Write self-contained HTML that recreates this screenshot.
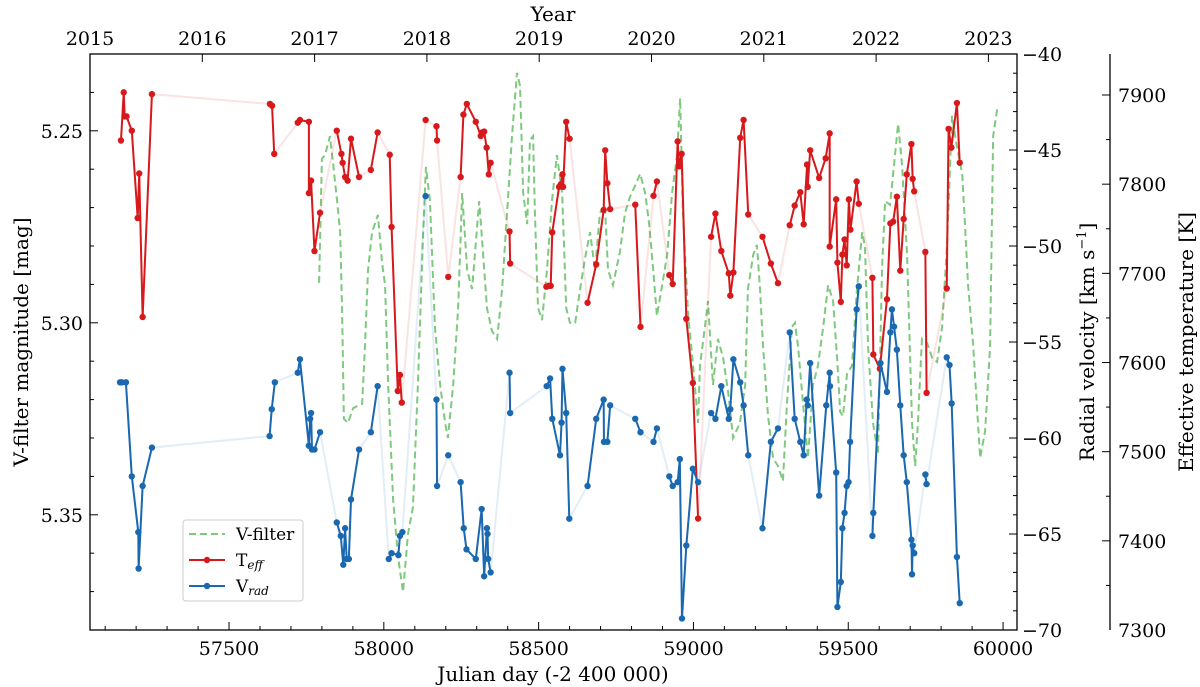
<!DOCTYPE html>
<html><head><meta charset="utf-8">
<style>
html,body{margin:0;padding:0;background:#fff;}
svg{display:block;font-family:"DejaVu Serif","Liberation Serif",serif;}
</style></head>
<body>
<svg id="chart" width="1200" height="687" viewBox="0 0 1200 687" xmlns="http://www.w3.org/2000/svg"></svg>
<script>
// ---------- DATA ----------
const teffJD = [57151,57160,57163,57169,57186,57205,57210,57221,57251,57632,57639,57646,57722,57729,57758,57758,57765,57776,57794,57848,57863,57867,57875,57883,57894,57920,57958,57980,58019,58025,58045,58052,58058,58135,58170,58172,58208,58248,58257,58268,58297,58313,58317,58324,58332,58339,58345,58406,58408,58525,58532,58539,58544,58566,58572,58577,58579,58589,58600,58658,58686,58710,58715,58722,58731,58812,58829,58871,58882,58922,58933,58949,58954,58962,58977,58998,59015,59057,59071,59090,59114,59119,59129,59151,59162,59177,59223,59250,59273,59311,59327,59345,59356,59367,59369,59377,59406,59427,59440,59440,59461,59465,59476,59481,59488,59495,59502,59507,59527,59534,59578,59581,59602,59625,59636,59645,59657,59668,59679,59689,59704,59708,59713,59749,59753,59818,59824,59833,59851,59860];
const teffK = [7849,7903,7876,7876,7860,7762,7812,7651,7901,7890,7888,7834,7869,7872,7870,7790,7804,7725,7768,7860,7834,7824,7808,7804,7851,7808,7816,7858,7833,7752,7568,7586,7555,7872,7865,7849,7696,7808,7878,7890,7870,7854,7858,7859,7841,7811,7824,7747,7711,7685,7686,7686,7746,7797,7800,7811,7797,7870,7851,7667,7710,7771,7838,7801,7772,7777,7640,7787,7803,7698,7688,7848,7820,7834,7649,7577,7425,7741,7767,7725,7700,7675,7701,7852,7872,7766,7741,7711,7689,7754,7776,7791,7755,7822,7797,7838,7807,7829,7857,7730,7783,7712,7668,7721,7738,7709,7783,7749,7803,7778,7695,7609,7593,7671,7756,7758,7786,7703,7761,7811,7845,7806,7792,7724,7566,7683,7862,7841,7891,7824];

const vradJD = [57148,57154,57167,57186,57207,57208,57221,57251,57631,57638,57648,57722,57729,57758,57762,57765,57768,57776,57794,57848,57861,57869,57875,57880,57887,57894,57920,57958,57980,58016,58025,58047,58052,58060,58135,58170,58172,58208,58248,58258,58267,58297,58316,58324,58333,58335,58337,58345,58406,58408,58526,58537,58544,58569,58574,58577,58589,58599,58658,58686,58710,58711,58722,58731,58812,58829,58871,58882,58922,58933,58949,58956,58963,58977,58998,59015,59057,59071,59090,59114,59119,59129,59151,59162,59177,59223,59250,59273,59311,59327,59345,59356,59366,59369,59377,59406,59429,59440,59441,59461,59465,59476,59481,59488,59495,59501,59506,59527,59534,59578,59581,59604,59625,59636,59641,59648,59657,59668,59679,59689,59704,59706,59708,59713,59749,59753,59818,59827,59834,59851,59860];
const vradKms = [-57.1,-57.1,-57.1,-62.0,-64.9,-66.8,-62.5,-60.5,-59.9,-58.5,-57.1,-56.6,-55.9,-60.4,-59.0,-58.7,-60.6,-60.6,-59.7,-64.4,-65.1,-66.6,-64.7,-66.3,-66.3,-63.2,-60.6,-59.7,-57.3,-66.3,-66.0,-66.1,-65.1,-64.9,-47.4,-58.0,-62.5,-60.9,-62.3,-64.7,-65.8,-66.3,-63.7,-67.2,-64.7,-65.0,-66.3,-67.0,-56.6,-58.7,-57.3,-56.9,-59.0,-60.9,-59.2,-56.4,-58.7,-64.2,-62.5,-59.0,-58.0,-60.2,-60.2,-58.3,-59.0,-59.7,-60.2,-59.5,-62.0,-62.5,-62.3,-61.1,-69.4,-65.6,-61.6,-62.3,-58.7,-59.0,-57.3,-59.0,-58.5,-55.9,-57.1,-58.3,-60.9,-64.7,-60.2,-59.5,-54.5,-59.0,-60.2,-60.9,-58.0,-58.3,-56.1,-63.0,-58.3,-56.6,-57.3,-61.8,-68.8,-67.5,-64.7,-63.9,-62.5,-62.3,-60.2,-53.3,-52.1,-65.1,-63.9,-56.1,-57.6,-54.5,-53.3,-54.2,-55.4,-58.3,-60.9,-62.3,-65.3,-67.1,-65.6,-66.0,-61.9,-62.4,-55.8,-56.2,-58.2,-66.2,-68.6];

const vfiltJD = [57791,57800,57810,57826,57836,57849,57859,57865,57871,57884,57901,57930,57939,57949,57962,57981,57994,58004,58014,58030,58046,58062,58078,58094,58110,58127,58136,58149,58165,58182,58198,58207,58224,58240,58253,58269,58285,58295,58308,58320,58333,58349,58366,58382,58398,58414,58430,58440,58450,58463,58472,58482,58488,58498,58511,58527,58543,58559,58576,58589,58601,58618,58634,58650,58666,58682,58698,58714,58724,58740,58763,58779,58795,58811,58828,58844,58857,58870,58882,58899,58915,58931,58947,58957,58966,58983,58999,59015,59021,59037,59047,59063,59079,59096,59112,59128,59150,59167,59176,59193,59205,59215,59225,59241,59257,59273,59289,59302,59318,59328,59338,59354,59370,59386,59402,59419,59435,59451,59464,59474,59483,59496,59512,59528,59545,59554,59564,59580,59596,59609,59619,59635,59651,59661,59674,59690,59706,59716,59725,59738,59755,59771,59787,59803,59819,59835,59851,59868,59877,59887,59903,59926,59942,59958,59968,59981];
const vfiltMag = [5.2896,5.2573,5.2563,5.2514,5.2584,5.2683,5.2764,5.2961,5.3250,5.3261,5.3222,5.3211,5.3063,5.2862,5.2764,5.2719,5.2842,5.2902,5.3162,5.3461,5.3610,5.3701,5.3550,5.3480,5.3162,5.2764,5.2594,5.2683,5.3011,5.3162,5.3261,5.3300,5.3162,5.2961,5.2662,5.2862,5.2912,5.2813,5.2683,5.2813,5.2961,5.3021,5.3042,5.2912,5.2714,5.2514,5.2349,5.2383,5.2662,5.2743,5.2524,5.2514,5.2714,5.2961,5.2993,5.2862,5.2683,5.2563,5.2662,5.2961,5.3000,5.3000,5.2912,5.2831,5.2764,5.2862,5.2714,5.2693,5.2862,5.2902,5.2813,5.2714,5.2672,5.2644,5.2612,5.2662,5.2743,5.2862,5.2982,5.2902,5.2823,5.2662,5.2563,5.2415,5.2714,5.2982,5.3112,5.3261,5.3112,5.3011,5.2943,5.3162,5.3042,5.3092,5.3180,5.3300,5.3261,5.3162,5.2912,5.2823,5.2797,5.2912,5.3063,5.3243,5.3352,5.3373,5.3412,5.3211,5.3011,5.3000,5.3063,5.3211,5.3352,5.3162,5.3112,5.3011,5.2902,5.2943,5.3092,5.3232,5.3243,5.3133,5.3112,5.2912,5.2764,5.2803,5.3063,5.3261,5.3342,5.2862,5.2683,5.2693,5.2563,5.2482,5.2592,5.2823,5.3261,5.3373,5.3261,5.3042,5.3053,5.3092,5.3102,5.3011,5.2797,5.2461,5.2542,5.2612,5.2743,5.2902,5.3053,5.3352,5.3282,5.3063,5.2514,5.2443];

const xTicksJD = [57500,58000,58500,59000,59500,60000];
const yTicksMag = [5.25,5.30,5.35];
const yTicksRV = [-40,-45,-50,-55,-60,-65,-70];
const yTicksTeff = [7300,7400,7500,7600,7700,7800,7900];
const yearTicks = [2015,2016,2017,2018,2019,2020,2021,2022,2023];

// ---------- SCALES ----------
const L=90,R=1017,T=54,B=630;
const X = jd => L + (jd-57051)/(60045-57051)*(R-L);
const YM = m => T + (m-5.23)/(5.38-5.23)*(B-T);
const YV = v => T + (-40-v)/30*(B-T);
const YT = k => T + (7946-k)/(7946-7300)*(B-T);
const XY = y => 90 + (y-2015)*112.3;

const svg=document.getElementById('chart');
const NS='http://www.w3.org/2000/svg';
function mk(tag,attrs,parent){const e=document.createElementNS(NS,tag);for(const k in attrs)e.setAttribute(k,attrs[k]);(parent||svg).appendChild(e);return e;}
function txt(s,x,y,attrs,parent){const e=mk('text',Object.assign({x:x,y:y},attrs||{}),parent);e.textContent=s;return e;}

// V-filter dashed line
const gV=mk('g',{});


mk('polyline',{points:vfiltJD.map((d,i)=>X(d)+','+YM(vfiltMag[i])).join(' '),fill:'none',stroke:'#7fc97f','stroke-width':2,'stroke-dasharray':'7,4'},gV);

function series(jds,vals,yf,color,name){
  const g=mk('g',{});
  
  
  const pts=jds.map((d,i)=>[X(d),yf(vals[i])]);
  mk('polyline',{points:pts.map(p=>p.join(',')).join(' '),fill:'none',stroke:color,'stroke-opacity':0.12,'stroke-width':2},g);
  let cur=[pts[0]];
  const runs=[];
  for(let i=1;i<pts.length;i++){
    if(jds[i]-jds[i-1]<=30){cur.push(pts[i]);}else{runs.push(cur);cur=[pts[i]];}
  }
  runs.push(cur);
  runs.forEach(r=>{if(r.length>1)mk('polyline',{points:r.map(p=>p.join(',')).join(' '),fill:'none',stroke:color,'stroke-width':2},g);});
  pts.forEach(p=>{
    const c=mk('circle',{cx:p[0],cy:p[1],r:3.2,fill:color},g);
    
    
  });
}
series(teffJD,teffK,YT,'#d7191c','teff-series');
series(vradJD,vradKms,YV,'#1a68b0','vrad-series');

// frame
const fr=mk('rect',{x:L,y:T,width:R-L,height:B-T,fill:'none',stroke:'#000','stroke-width':1.3});



const ts={'font-size':19,fill:'#000'};
// bottom axis
for(let d=57100;d<=60000;d+=100){const maj=d%500===0;mk('line',{x1:X(d),x2:X(d),y1:B,y2:B-(maj?8:4),stroke:'#000','stroke-width':1});}
xTicksJD.forEach(d=>{const t=txt(String(d),X(d),655,Object.assign({'text-anchor':'middle'},ts));});
const xt=txt('Julian day (-2 400 000)',553,681,{'text-anchor':'middle','font-size':20});


// top axis
yearTicks.forEach(y=>{mk('line',{x1:XY(y),x2:XY(y),y1:T,y2:T+8,stroke:'#000','stroke-width':1});
  const t=txt(String(y),XY(y),45,Object.assign({'text-anchor':'middle'},ts));});
const yt=txt('Year',553,21,{'text-anchor':'middle','font-size':20});


// left axis
for(let m=5.24;m<=5.375;m+=0.01){const mm=Math.round(m*100)/100;const maj=Math.abs(mm*100%5)<0.01;mk('line',{x1:L,x2:L+(maj?8:4),y1:YM(mm),y2:YM(mm),stroke:'#000','stroke-width':1});}
yTicksMag.forEach(m=>{const t=txt(m.toFixed(2),L-7,YM(m)+7,Object.assign({'text-anchor':'end'},ts));});
const lt=txt('V-filter magnitude [mag]',0,0,{'text-anchor':'middle','font-size':20,transform:'translate(28,342) rotate(-90)'});


// right RV axis
for(let v=-41;v>=-69;v--){const maj=v%5===0;mk('line',{x1:R,x2:R-(maj?8:4),y1:YV(v),y2:YV(v),stroke:'#000','stroke-width':1});}
yTicksRV.forEach(v=>{const t=txt('\u2212'+Math.abs(v),R+5,YV(v)+7,ts);});
const rt=mk('text',{'text-anchor':'middle','font-size':20,transform:'translate(1094,342) rotate(-90)'});
rt.innerHTML='Radial velocity [km s<tspan dy="-8" font-size="13">\u22121</tspan><tspan dy="8">]</tspan>';


// Teff axis
const TX=1110;
mk('line',{x1:TX,x2:TX,y1:T,y2:B,stroke:'#000','stroke-width':1.3});
for(let k=7350;k<=7900;k+=50){const maj=k%100===0;mk('line',{x1:TX,x2:TX-(maj?8:4),y1:YT(k),y2:YT(k),stroke:'#000','stroke-width':1});}
yTicksTeff.forEach(k=>{const t=txt(String(k),TX+8,YT(k)+7,ts);});
const tt=txt('Effective temperature [K]',0,0,{'text-anchor':'middle','font-size':20,transform:'translate(1193,342) rotate(-90)'});


// legend
const lg=mk('g',{});

mk('rect',{x:183,y:520,width:120,height:81,rx:3,fill:'#fff',stroke:'#ccc','stroke-width':1},lg);
mk('line',{x1:189,x2:225,y1:534,y2:534,stroke:'#7fc97f','stroke-width':2,'stroke-dasharray':'7,4'},lg);
txt('V-filter',236,540,{'font-size':17},lg);
mk('line',{x1:189,x2:225,y1:560,y2:560,stroke:'#d7191c','stroke-width':2},lg);
mk('circle',{cx:207,cy:560,r:3.2,fill:'#d7191c'},lg);
const l2=mk('text',{x:236,y:566,'font-size':17},lg);l2.innerHTML='T<tspan font-size="12" font-style="italic" dy="3">eff</tspan>';
mk('line',{x1:189,x2:225,y1:586,y2:586,stroke:'#1a68b0','stroke-width':2},lg);
mk('circle',{cx:207,cy:586,r:3.2,fill:'#1a68b0'},lg);
const l3=mk('text',{x:236,y:592,'font-size':17},lg);l3.innerHTML='V<tspan font-size="12" font-style="italic" dy="3">rad</tspan>';
</script>
</body></html>
